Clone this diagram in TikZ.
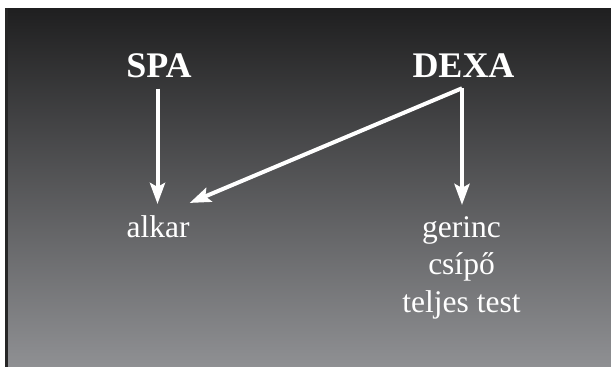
\documentclass[tikz,border=0pt]{standalone}
\usepackage{fontspec}
\setmainfont{Liberation Serif}
\usetikzlibrary{arrows.meta,calc}
\definecolor{bgtop}{RGB}{31,31,32}
\definecolor{bgbot}{RGB}{143,144,147}
\tikzset{
  head/.style={text=white, inner sep=0pt, anchor=base, font=\fontsize{36}{40}\selectfont\bfseries},
  leaf/.style={text=white, inner sep=0pt, anchor=base, font=\fontsize{31.5}{37}\selectfont},
  arr/.style={draw=white, line width=4pt, -{Stealth[length=21pt,width=15pt,inset=4pt]}, line join=miter}
}
\begin{document}
\begin{tikzpicture}[x=1pt,y=-1pt]
\useasboundingbox (0,0) rectangle (611,367);
\fill[white] (0,0) rectangle (611,367);
\shade[top color=bgtop, bottom color=bgbot] (7.5,8) rectangle (611,367);
\fill[black!85] (5,8) rectangle (7.5,367);
\node[head] (spa) at (159,77) {SPA};
\node[head] (dexa) at (463.5,77) {DEXA};
\node[leaf] (alkar) at (158,237) {alkar};
\node[leaf] (gerinc) at (461.5,237) {gerinc};
\node[leaf] (csipo) at (461.5,274.5) {csípő};
\node[leaf] (teljes) at (461.5,312) {teljes test};
\coordinate (sx) at ($(spa.south)+(-1.5,11)$);
\coordinate (dx) at ($(dexa.south)+(-1.5,11)$);
\draw[arr, shorten >=11pt] (sx) -- (sx |- alkar.north);
\draw[arr, shorten >=11pt] (dx) -- (dx |- gerinc.north);
\draw[arr] (dx) -- ($(alkar.north east)+(0,-12)$);
\end{tikzpicture}
\end{document}
